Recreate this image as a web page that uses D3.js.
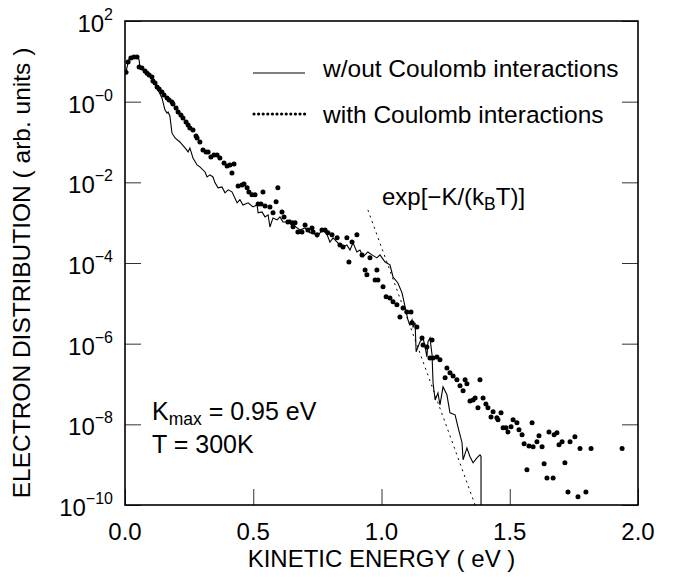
<!DOCTYPE html>
<html>
<head>
<meta charset="utf-8">
<script src="https://cdn.jsdelivr.net/npm/d3@7"></script>
<style>
  html, body { margin: 0; padding: 0; background: #fff; }
  svg { display: block; font-family: "Liberation Sans", Arial, Helvetica, sans-serif; }
</style>
</head>
<body>
<svg id="chart" width="673" height="577"></svg>
<script>
// Electron energy distribution, without Coulomb interactions (solid line)
const noCoulE = [0.004,0.012,0.019,0.031,0.047,0.055,0.058,0.086,0.109,0.129,
  0.144,0.156,0.164,0.168,0.175,0.183,0.195,0.214,0.234,0.246,
  0.253,0.265,0.281,0.292,0.312,0.320,0.331,0.343,0.351,0.363,
  0.378,0.390,0.402,0.417,0.437,0.448,0.460,0.480,0.499,0.515,
  0.519,0.534,0.546,0.558,0.565,0.577,0.593,0.604,0.616,0.632,
  0.643,0.655,0.682,0.702,0.721,0.733,0.749,0.760,0.772,0.788,
  0.799,0.811,0.827,0.838,0.850,0.865,0.877,0.889,0.904,0.916,
  0.928,0.947,0.963,0.982,0.994,1.014,1.033,1.045,1.064,1.080,
  1.092,1.103,1.111,1.119,1.123,1.131,1.135,1.150,1.162,1.170,
  1.177,1.181,1.189,1.197,1.201,1.209,1.220,1.228,1.240,1.255,
  1.267,1.287,1.298,1.314,1.318,1.333,1.345,1.357,1.372,1.384,
  1.388,1.388];
const noCoulV = [5.4,9.6,12.8,13.6,13.6,10.8,7.2,5.4,3.45,1.95,
  1.24,0.62,0.52,0.556,0.443,0.168,0.126,0.100,0.0712,0.0567,
  0.0712,0.0403,0.027,0.0241,0.0181,0.0136,0.0153,0.0136,9.7e-3,7.3e-3,
  7.7e-3,5.5e-3,6.5e-3,5.8e-3,3.1e-3,3.7e-3,2.75e-3,3.1e-3,2.46e-3,2.75e-3,
  1.75e-3,1.85e-3,1.39e-3,1.56e-3,7.8e-4,1.31e-3,1.17e-3,1.39e-3,1.04e-3,1.04e-3,
  1.17e-3,8.8e-4,6.6e-4,7.4e-4,5.6e-4,5.9e-4,4.4e-4,5.6e-4,6.6e-4,5.0e-4,
  3.3e-4,4.2e-4,3.3e-4,2.8e-4,2.5e-4,2.8e-4,2.1e-4,3.15e-4,1.88e-4,2.1e-4,
  1.42e-4,1.88e-4,1.59e-4,1.34e-4,1.59e-4,1.06e-4,9.0e-5,4.5e-5,3.2e-5,1.82e-5,
  8.2e-6,3.9e-6,2.9e-6,3.9e-6,2.6e-6,3.3e-6,6.3e-7,1.11e-6,1.39e-6,8.3e-7,
  4.7e-7,1.11e-6,1.39e-6,5.3e-7,1.07e-7,4.0e-8,6.0e-8,3.05e-8,8.5e-8,5.4e-8,
  1.93e-8,1.72e-8,8.7e-9,3.5e-9,1.32e-9,2.6e-9,1.57e-9,1.11e-9,1.48e-9,1.75e-9,
  1.6e-9,1e-10];

// Electron energy distribution, with Coulomb interactions (dots)
const withE = [0.004,0.012,0.023,0.035,0.047,0.055,0.066,0.078,0.086,0.094,
  0.105,0.109,0.117,0.125,0.133,0.144,0.152,0.164,0.172,0.183,
  0.187,0.199,0.207,0.218,0.226,0.238,0.246,0.253,0.265,0.277,
  0.281,0.292,0.304,0.316,0.324,0.335,0.347,0.359,0.370,0.386,
  0.398,0.409,0.417,0.425,0.441,0.456,0.464,0.476,0.483,0.495,
  0.507,0.519,0.530,0.538,0.546,0.565,0.577,0.589,0.596,0.612,
  0.620,0.635,0.651,0.655,0.663,0.674,0.690,0.702,0.713,0.729,
  0.733,0.749,0.768,0.780,0.791,0.807,0.827,0.838,0.850,0.865,
  0.873,0.885,0.904,0.924,0.936,0.943,0.955,0.975,0.982,0.986,
  1.006,1.018,1.033,1.045,1.060,1.072,1.084,1.099,1.115,1.119,
  1.138,1.158,1.162,1.177,1.197,1.189,1.201,1.216,1.228,1.248,
  1.255,1.267,1.279,1.294,1.306,1.318,1.326,1.333,1.345,1.357,
  1.365,1.376,1.384,1.396,1.407,1.415,1.427,1.435,1.450,1.454,
  1.466,1.474,1.485,1.493,1.505,1.513,1.528,1.536,1.548,1.556,
  1.567,1.575,1.587,1.591,1.606,1.614,1.626,1.634,1.645,1.653,
  1.669,1.673,1.684,1.692,1.704,1.715,1.727,1.735,1.754,1.766,
  1.774,1.797,1.817,1.938];
const withV = [5.4,9.6,12.1,12.8,12.8,7.2,6.8,5.8,5.1,4.6,
  4.1,3.26,2.9,2.31,2.07,1.74,1.47,1.24,1.10,0.98,
  0.88,0.70,0.556,0.468,0.394,0.314,0.265,0.223,0.199,0.141,
  0.126,0.100,0.0635,0.0566,0.0566,0.0427,0.0478,0.0478,0.0403,0.0303,
  0.0255,0.0270,0.0171,0.0286,8.1e-3,8.6e-3,9.1e-3,7.3e-3,5.8e-3,4.9e-3,
  4.9e-3,2.9e-3,2.9e-3,5.8e-3,2.6e-3,2.45e-3,1.75e-3,3.3e-3,7.3e-3,1.85e-3,
  1.39e-3,1.04e-3,9.9e-4,7.9e-4,9.9e-4,5.9e-4,5.9e-4,8.8e-4,6.6e-4,7.4e-4,
  5.9e-4,5.0e-4,6.6e-4,6.6e-4,5.6e-4,5.0e-4,4.2e-4,2.8e-4,2.5e-4,4.2e-4,
  1.06e-4,3.3e-4,5.0e-4,1.59e-4,6.7e-5,5.1e-5,1.34e-4,3.8e-5,6.7e-5,3.8e-5,
  2.56e-5,1.45e-5,1.36e-5,1.09e-5,9.2e-6,4.6e-6,7.7e-6,6.1e-6,6.1e-6,3.3e-6,
  2.6e-6,1.39e-6,9.3e-7,8.3e-7,1.24e-6,4.4e-7,4.4e-7,4.7e-7,4.0e-7,1.42e-7,
  2.5e-7,1.89e-7,1.59e-7,1.27e-7,9.0e-8,6.8e-8,1.27e-7,1.01e-7,3.8e-8,4.0e-8,
  4.5e-8,2.56e-8,1.27e-7,4.5e-8,3.2e-8,2.56e-8,1.53e-8,2.04e-8,1.45e-8,1.29e-8,
  1.93e-8,8.2e-9,8.2e-9,6.5e-9,8.7e-9,1.29e-8,1.09e-8,7.3e-9,5.5e-9,3.3e-9,
  7.5e-10,2.9e-9,1.09e-8,2.8e-9,3.7e-9,5.2e-9,2.8e-9,1.05e-9,4.7e-10,6.5e-9,
  4.7e-10,5.5e-9,6.2e-9,3.1e-9,3.7e-9,1.11e-9,2.1e-10,3.7e-9,4.9e-9,1.6e-10,
  2.5e-9,2.1e-10,2.5e-9,2.5e-9];

// Boltzmann guide line exp[-K/(kBT)], end points
const expE = [0.947, 1.365];
const expV = [2.07e-3, 1e-10];

// Axis ticks and labels
const xTicks = [0, 0.5, 1.0, 1.5, 2.0];
const xTickLabels = ["0.0", "0.5", "1.0", "1.5", "2.0"];
const yTicks = [1e2, 1e0, 1e-2, 1e-4, 1e-6, 1e-8, 1e-10];
const yTickExps = ["2", "\u22120", "\u22122", "\u22124", "\u22126", "\u22128", "\u221210"];

const legendLabels = ["w/out Coulomb interactions", "with Coulomb interactions"];

// ---- layout ----
const plotL = 125, plotR = 638, plotT = 21, plotB = 505;
const svg = d3.select("#chart");

const x = d3.scaleLinear().domain([0, 2]).range([plotL, plotR]);
const y = d3.scaleLog().domain([1e-10, 1e2]).range([plotB, plotT]);

svg.append("defs").append("clipPath").attr("id", "plotclip")
  .append("rect").attr("x", plotL).attr("y", plotT)
  .attr("width", plotR - plotL).attr("height", plotB - plotT);

// inward ticks on left, right and bottom
const tickStyle = g => {
  g.select(".domain").remove();
  g.selectAll(".tick line").attr("stroke", "#333").attr("stroke-width", 1);
  g.selectAll(".tick text").remove();
};
svg.append("g").attr("transform", `translate(${plotL},0)`)
  .call(d3.axisLeft(y).tickValues(yTicks).tickSize(-16)).call(tickStyle);
svg.append("g").attr("transform", `translate(${plotR},0)`)
  .call(d3.axisRight(y).tickValues(yTicks).tickSize(-16)).call(tickStyle);
svg.append("g").attr("transform", `translate(0,${plotB})`)
  .call(d3.axisBottom(x).tickValues(xTicks).tickSize(-16)).call(tickStyle);

// frame
svg.append("rect").attr("x", plotL).attr("y", plotT)
  .attr("width", plotR - plotL).attr("height", plotB - plotT)
  .attr("fill", "none").attr("stroke", "#000").attr("stroke-width", 1.6);

// y tick labels: 10 with superscript exponent
yTicks.forEach((v, i) => {
  const t = svg.append("text").attr("x", 113).attr("y", y(v) + 11)
    .attr("text-anchor", "end").attr("font-size", 24).attr("fill", "#000");
  t.append("tspan").text("10");
  t.append("tspan").attr("font-size", 16).attr("dy", -12).text(yTickExps[i]);
});

// x tick labels
xTicks.forEach((v, i) => {
  svg.append("text").attr("x", x(v)).attr("y", 540)
    .attr("text-anchor", "middle").attr("font-size", 24).text(xTickLabels[i]);
});

// axis titles
svg.append("text").attr("x", (plotL + plotR) / 2).attr("y", 567)
  .attr("text-anchor", "middle").attr("font-size", 24).text("KINETIC ENERGY ( eV )");
svg.append("text").attr("transform", "translate(30,273) rotate(-90)")
  .attr("text-anchor", "middle").attr("font-size", 24.5)
  .text("ELECTRON DISTRIBUTION ( arb. units )");

const plot = svg.append("g").attr("clip-path", "url(#plotclip)");

// guide line
plot.append("path")
  .datum(d3.zip(expE, expV))
  .attr("d", d3.line().x(d => x(d[0])).y(d => y(d[1])))
  .attr("fill", "none").attr("stroke", "#000").attr("stroke-width", 1)
  .attr("stroke-dasharray", "2,4");

// solid line
plot.append("path")
  .datum(d3.zip(noCoulE, noCoulV))
  .attr("d", d3.line().x(d => x(d[0])).y(d => y(d[1])))
  .attr("fill", "none").attr("stroke", "#000").attr("stroke-width", 1.1)
  .attr("stroke-linejoin", "miter");

// dots
plot.selectAll("circle.pt")
  .data(d3.zip(withE, withV))
  .join("circle").attr("class", "pt")
  .attr("cx", d => x(d[0])).attr("cy", d => y(d[1]))
  .attr("r", 2.5).attr("fill", "#000");

// legend
const lg = svg.append("g");
lg.append("line").attr("x1", 253).attr("x2", 305).attr("y1", 73).attr("y2", 73)
  .attr("stroke", "#000").attr("stroke-width", 1.1);
lg.selectAll("circle.lgdot").data(d3.range(12)).join("circle").attr("class", "lgdot")
  .attr("cx", d => 254 + d * 4.6).attr("cy", 114).attr("r", 1.6).attr("fill", "#000");
legendLabels.forEach((s, i) => {
  lg.append("text").attr("x", 323).attr("y", 77 + i * 46)
    .attr("font-size", 24.5).text(s);
});

// guide label exp[-K/(kBT)]
const ex = svg.append("text").attr("x", 382).attr("y", 205).attr("font-size", 24);
ex.append("tspan").text("exp[\u2212K/(k");
ex.append("tspan").attr("font-size", 17.5).attr("dy", 5).text("B");
ex.append("tspan").attr("dy", -5).text("T)]");

// parameters
const km = svg.append("text").attr("x", 152).attr("y", 420).attr("font-size", 25);
km.append("tspan").text("K");
km.append("tspan").attr("font-size", 17.5).attr("dy", 5).text("max");
km.append("tspan").attr("dy", -5).text(" = 0.95 eV");
svg.append("text").attr("x", 152).attr("y", 453).attr("font-size", 25).text("T = 300K");
</script>
</body>
</html>
